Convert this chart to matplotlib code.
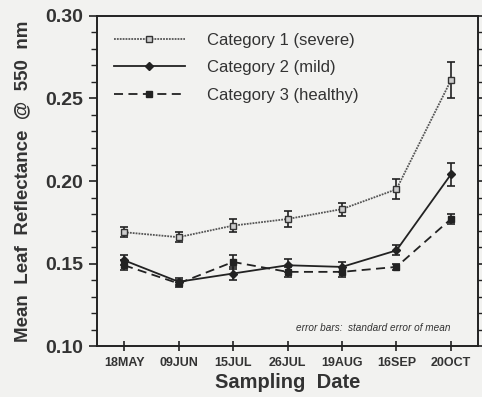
import matplotlib
matplotlib.use("Agg")
import matplotlib.pyplot as plt
from matplotlib.ticker import MultipleLocator
from matplotlib.lines import Line2D

plt.rcParams['font.family'] = ['Liberation Sans', 'DejaVu Sans']

dates = ["18MAY", "09JUN", "15JUL", "26JUL", "19AUG", "16SEP", "20OCT"]

severe = [0.169, 0.166, 0.173, 0.177, 0.183, 0.195, 0.261]
severe_err = [0.003, 0.003, 0.004, 0.005, 0.004, 0.006, 0.011]

mild = [0.152, 0.139, 0.144, 0.149, 0.148, 0.158, 0.204]
mild_err = [0.003, 0.002, 0.004, 0.004, 0.003, 0.003, 0.007]

healthy = [0.149, 0.138, 0.151, 0.145, 0.145, 0.148, 0.177]
healthy_err = [0.003, 0.002, 0.004, 0.003, 0.003, 0.002, 0.003]

labels = ["Category 1 (severe)", "Category 2 (mild)", "Category 3 (healthy)"]

bg = "#f2f2f0"
ink = "#222222"
txt = "#333333"

fig = plt.figure(figsize=(4.82, 3.97), dpi=100, facecolor=bg)
ax = fig.add_axes([0.201, 0.128, 0.791, 0.832], facecolor=bg)

x = list(range(len(dates)))

styles = [
    dict(color="#555555", linestyle=(0, (1, 0.6)), marker="s", markersize=5,
         markerfacecolor="#cccccc", markeredgecolor="#333333"),
    dict(color=ink, linestyle="-", marker="D", markersize=4.5,
         markerfacecolor=ink, markeredgecolor=ink),
    dict(color=ink, linestyle=(0, (5, 3)), marker="s", markersize=5,
         markerfacecolor=ink, markeredgecolor=ink),
]

for vals, errs, st in zip([severe, mild, healthy],
                          [severe_err, mild_err, healthy_err], styles):
    ax.errorbar(x, vals, yerr=errs, linewidth=1.3, ecolor=ink, elinewidth=1.2,
                capsize=3, capthick=1.2, **st)

handles = [Line2D([], [], linewidth=1.3, **st) for st in styles]

ax.set_xlim(-0.5, 6.5)
ax.set_ylim(0.10, 0.30)
ax.set_xticks(x)
ax.set_xticklabels(dates, fontsize=9, fontweight="bold", color=txt)
ax.yaxis.set_major_locator(MultipleLocator(0.05))
ax.yaxis.set_minor_locator(MultipleLocator(0.01))
ax.yaxis.set_major_formatter(matplotlib.ticker.FormatStrFormatter("%.2f"))
for lab in ax.get_yticklabels():
    lab.set_fontsize(14)
    lab.set_fontweight("bold")
    lab.set_color(txt)

ax.tick_params(axis="y", which="both", direction="out", right=True, color=ink)
ax.tick_params(axis="y", which="major", length=6, width=1.2, pad=4)
ax.tick_params(axis="y", which="minor", length=4, width=1)
ax.tick_params(axis="x", which="major", direction="inout", length=7, width=1.2,
               color=ink, pad=4)

for sp in ax.spines.values():
    sp.set_linewidth(1.4)
    sp.set_color(ink)

ax.set_xlabel("Sampling  Date", fontsize=14.5, fontweight="bold", color=txt,
              labelpad=3)
ax.set_ylabel("Mean  Leaf  Reflectance  @  550  nm", fontsize=13.5,
              fontweight="bold", color=txt, labelpad=10)

leg = ax.legend(handles, labels, loc="upper left", frameon=False, fontsize=12,
                handlelength=4.3, borderaxespad=0.5, labelspacing=0.75,
                handletextpad=1.3, borderpad=0.5)
for t in leg.get_texts():
    t.set_color(txt)

ax.text(0.927, 0.055, "error bars:  standard error of mean", transform=ax.transAxes,
        ha="right", va="center", fontsize=7.2, style="italic", color=txt)

fig.savefig("out.png", dpi=100, facecolor=bg)
